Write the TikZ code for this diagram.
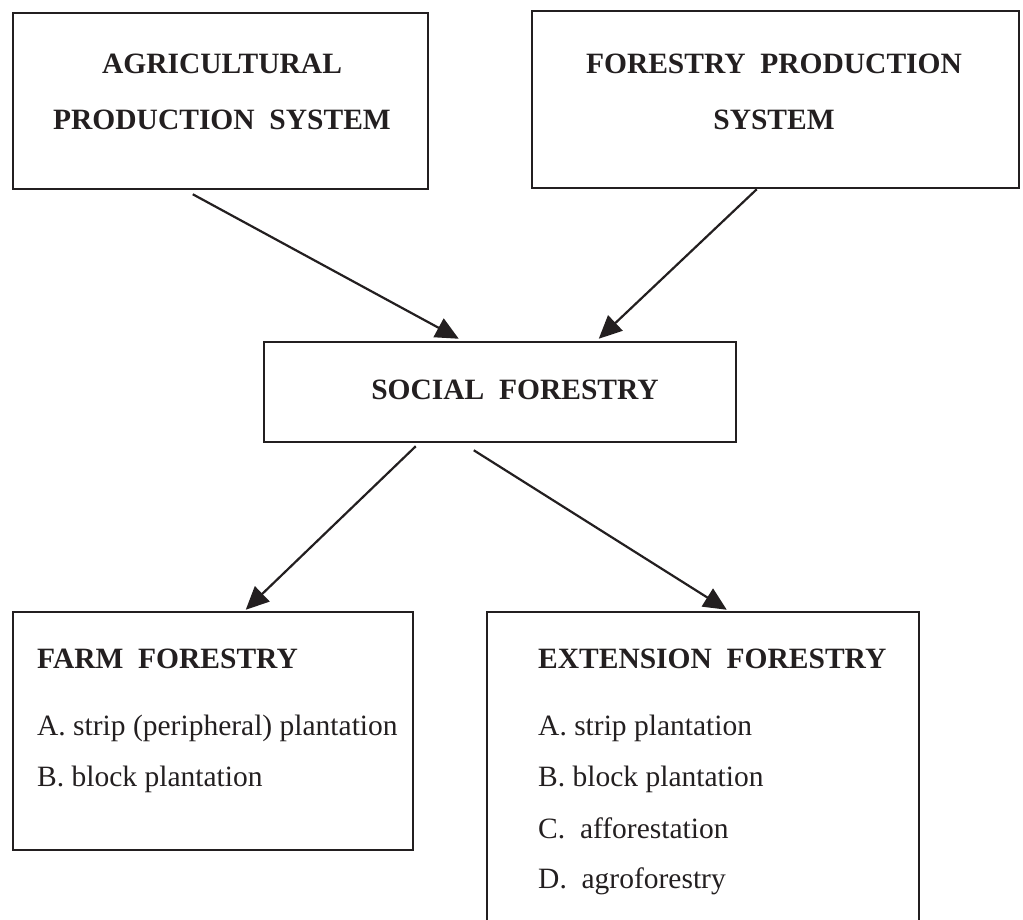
\documentclass[tikz,border=0pt]{standalone}
\usepackage{fontspec}
\setmainfont{Liberation Serif}
\usetikzlibrary{arrows.meta}
\definecolor{ink}{HTML}{231F20}
\begin{document}
\begin{tikzpicture}[x=1pt,y=-1pt,
  box/.style={draw=ink,line width=2.5pt,inner sep=0pt,rectangle},
  head/.style={text=ink,font=\fontsize{29.5}{32}\selectfont\bfseries,inner sep=0pt},
  item/.style={text=ink,font=\fontsize{29.5}{32}\selectfont,inner sep=0pt,anchor=base west},
  arr/.style={draw=ink,line width=2.2pt,-{Triangle[length=23pt,width=21pt]}}]
\useasboundingbox (0,0) rectangle (1023,920);
% boxes
\node[box,minimum width=415pt,minimum height=176pt] (agri) at (220.5,101) {};
\node[box,minimum width=487pt,minimum height=177pt] (fors) at (775.5,99.5) {};
\node[box,minimum width=472pt,minimum height=100pt] (soc) at (500,392) {};
\node[box,minimum width=400pt,minimum height=238pt] (farm) at (213,731) {};
\node[box,minimum width=432pt,minimum height=323pt] (ext) at (703,773.5) {};
% texts
\node[head,anchor=base] (t1) at (222,74) {AGRICULTURAL};
\node[head,anchor=base] (t2) at (222,130) {PRODUCTION\hspace{0.5em}SYSTEM};
\node[head,anchor=base] (t3) at (774,74) {FORESTRY\hspace{0.5em}PRODUCTION};
\node[head,anchor=base] (t4) at (774,130) {SYSTEM};
\node[head,anchor=base] (t5) at (515,399) {SOCIAL\hspace{0.5em}FORESTRY};
\node[head,anchor=base west] (t6) at (37,668) {FARM\hspace{0.5em}FORESTRY};
\node[item] (f1) at (37,735) {A. strip (peripheral) plantation};
\node[item] (f2) at (37,786) {B. block plantation};
\node[head,anchor=base west] (t7) at (538,668) {EXTENSION\hspace{0.5em}FORESTRY};
\node[item] (e1) at (538,735) {A. strip plantation};
\node[item] (e2) at (538,786) {B. block plantation};
\node[item] (e3) at (538,838) {C.\hspace{0.5em}afforestation};
\node[item] (e4) at (538,888) {D.\hspace{0.5em}agroforestry};
% arrows
\draw[arr] ([xshift=181pt,yshift=-4pt]agri.south west) -- ([xshift=196pt,yshift=2pt]soc.north west);
\draw[arr] ([xshift=226pt]fors.south west) -- ([xshift=336pt,yshift=2pt]soc.north west);
\draw[arr] ([xshift=153pt,yshift=-3pt]soc.south west) -- ([xshift=234pt,yshift=1pt]farm.north west);
\draw[arr] ([xshift=211pt,yshift=-7pt]soc.south west) -- ([xshift=241pt,yshift=1pt]ext.north west);
\end{tikzpicture}
\end{document}
